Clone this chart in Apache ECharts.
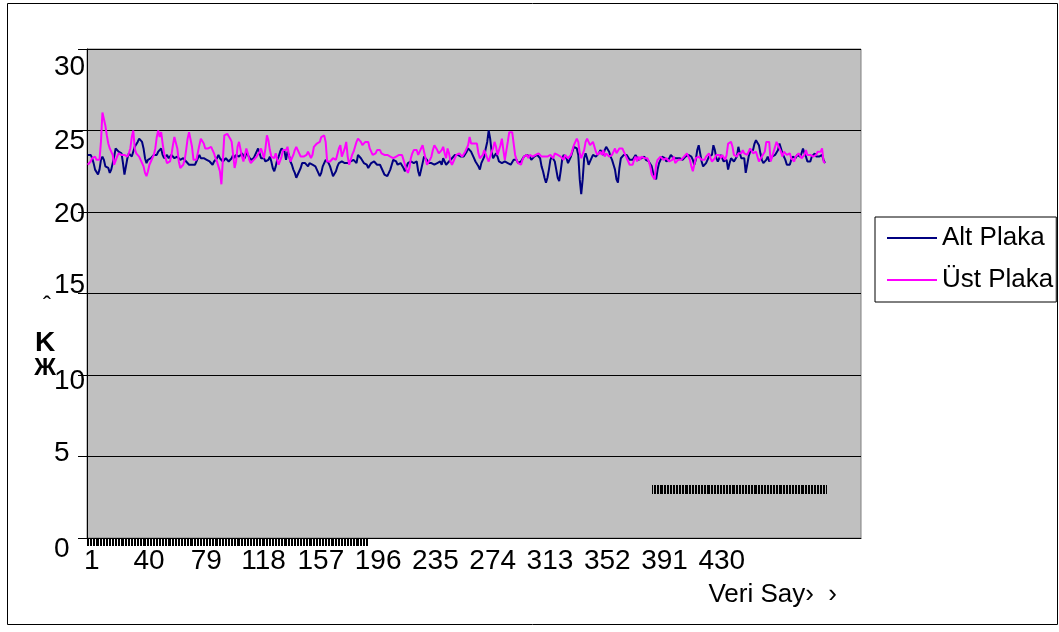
<!DOCTYPE html>
<html><head><meta charset="utf-8">
<script src="https://cdn.jsdelivr.net/npm/echarts@6/dist/echarts.min.js"></script>
<style>html,body{margin:0;padding:0;background:#fff}#c{width:1059px;height:632px}</style>
</head><body><div id="c"></div>
<script>
const seriesNames = ['Alt Plaka', 'Üst Plaka'];
const altPlaka = [23.5,23.5,23.5,23.3,23.0,22.6,22.5,22.3,22.6,23.2,
23.4,23.2,22.8,22.7,22.7,22.4,22.6,23.0,23.4,23.9,
23.9,23.7,23.6,23.6,23.0,22.3,22.8,23.3,23.6,23.6,
23.4,23.5,24.0,24.1,24.3,24.5,24.5,24.3,23.9,23.3,
23.0,23.2,23.3,23.3,23.4,23.5,23.5,23.5,23.7,23.6,
23.9,23.5,23.3,23.4,23.5,23.3,23.3,23.5,23.4,23.3,
23.4,23.4,23.3,23.2,23.2,23.3,23.3,23.1,23.0,22.9,
22.9,22.9,22.9,22.9,23.1,23.3,23.5,23.3,23.3,23.3,
23.3,23.2,23.2,23.1,23.0,22.9,23.1,23.2,23.3,23.5,
23.3,23.2,23.1,23.2,23.3,23.2,23.1,23.2,23.3,23.5,
23.3,23.5,23.5,23.4,23.4,23.6,23.5,23.3,23.7,23.5,
23.4,23.2,23.2,23.3,23.5,23.7,23.9,23.6,23.3,23.4,
23.3,23.1,23.0,23.2,23.4,23.1,22.7,22.5,22.8,23.2,
23.4,23.7,23.9,23.9,23.7,23.2,23.7,23.5,23.1,22.9,
22.6,22.4,22.1,22.1,22.5,22.7,23.0,23.0,23.0,22.9,
22.8,23.0,23.1,22.9,23.0,22.8,22.7,22.4,22.2,22.4,
22.8,23.0,23.2,23.1,23.0,22.8,22.5,22.2,22.2,22.5,
22.8,23.0,23.1,23.1,23.0,23.0,23.0,23.0,23.0,23.1,
23.1,23.2,23.1,23.0,23.5,23.5,23.3,23.2,23.0,23.0,
22.9,22.7,22.6,23.0,23.1,23.1,23.0,22.9,22.9,22.9,
22.8,22.5,22.3,22.2,22.2,22.4,22.6,22.9,23.2,23.3,
23.1,22.9,23.0,23.0,22.9,22.7,22.5,22.6,23.0,23.1,
23.1,23.0,23.0,23.1,23.1,22.5,22.2,22.6,23.0,23.4,
23.4,23.2,23.0,22.9,23.0,22.9,22.9,23.0,23.0,23.1,
23.1,22.9,23.3,23.2,22.9,22.9,23.1,23.2,23.3,23.4,
23.5,23.4,23.5,23.5,23.4,23.4,23.4,23.5,23.7,23.9,
24.0,23.7,23.5,23.3,23.1,23.0,22.8,22.6,23.0,23.1,
23.4,23.9,24.3,25.0,24.5,23.7,23.3,23.4,23.6,23.4,
23.1,23.0,23.0,23.0,23.1,23.0,23.0,23.0,22.9,23.0,
23.2,23.3,23.2,23.0,23.0,23.1,23.2,23.4,23.5,23.5,
23.5,23.4,23.2,23.2,23.4,23.5,23.5,23.4,23.3,22.8,
22.5,22.1,21.8,22.1,22.6,23.2,23.4,23.4,23.1,22.6,
22.1,21.9,22.5,23.2,23.5,23.6,23.3,23.0,23.1,23.4,
23.5,24.0,24.1,23.9,23.5,22.0,21.1,22.0,23.3,23.6,
23.3,22.9,23.0,23.3,23.5,23.5,23.4,23.3,23.6,23.8,
23.7,23.5,23.8,24.0,23.9,23.7,23.4,23.2,22.9,22.6,
22.0,21.8,22.7,23.3,23.4,23.5,23.6,23.5,23.4,23.2,
23.2,23.2,23.3,23.5,23.4,23.2,23.2,23.3,23.4,23.4,
23.2,23.3,23.1,23.0,22.8,22.4,22.2,22.0,22.6,23.0,
23.2,23.4,23.4,23.3,23.1,23.1,23.3,23.5,23.5,23.3,
23.4,23.3,23.4,23.3,23.2,23.2,23.3,23.4,23.5,23.5,
23.5,23.4,23.2,22.9,23.2,23.8,24.1,23.6,23.1,22.8,
22.9,23.0,23.2,23.4,23.5,23.5,24.1,23.8,23.3,23.1,
23.2,23.5,23.4,23.1,23.0,23.2,22.6,23.0,23.3,23.4,
23.1,23.0,23.4,24.0,23.6,23.3,23.3,23.3,22.4,22.9,
23.4,23.7,23.7,23.8,24.2,24.4,24.3,24.1,23.6,23.2,
23.0,23.1,23.2,23.4,23.1,23.0,23.4,23.5,23.5,23.5,
23.8,24.2,24.1,23.6,23.4,23.2,22.9,22.8,22.9,23.2,
23.4,23.5,23.3,23.5,23.5,23.4,23.6,23.9,23.6,23.4,
23.1,23.0,23.1,23.4,23.5,23.6,23.4,23.3,23.4,23.5,
23.5,23.2,23.0];
const ustPlaka = [22.9,22.9,23.1,23.3,23.4,23.4,23.2,23.1,23.2,24.3,
26.1,26.1,25.3,24.7,24.2,23.9,23.7,23.5,22.9,23.0,
23.4,23.6,23.6,23.5,23.5,23.5,23.4,23.4,23.6,23.9,
24.6,25.0,23.9,23.6,23.5,23.4,23.2,23.0,22.8,22.4,
22.2,22.5,22.9,23.1,23.3,23.5,23.9,24.6,25.0,24.6,
24.9,24.2,23.6,23.3,23.0,22.9,23.1,23.5,24.1,24.6,
24.5,23.9,23.1,22.7,22.7,22.9,23.2,23.8,24.5,24.9,
24.8,24.0,23.2,23.2,23.2,23.2,24.1,24.5,24.6,24.2,
23.9,24.0,23.9,24.0,24.0,23.9,23.6,23.3,23.1,22.8,
22.5,21.7,23.2,24.7,24.8,24.8,24.7,24.5,24.3,23.5,
22.7,23.1,24.0,24.3,24.2,23.4,23.1,23.5,23.9,23.6,
23.2,23.0,23.0,23.2,23.3,23.4,23.4,23.7,23.9,23.6,
23.3,23.9,24.7,24.4,23.8,23.4,23.3,23.3,23.6,23.2,
22.9,23.0,23.4,23.8,23.9,23.8,24.0,23.5,23.1,23.2,
23.5,23.8,24.0,23.8,23.6,23.4,23.5,23.4,23.4,23.5,
23.7,23.5,23.3,23.5,24.0,24.1,24.2,24.2,24.3,24.6,
24.7,24.7,24.3,23.1,23.0,23.1,23.2,23.3,23.4,23.2,
23.1,23.9,24.1,23.4,23.4,23.9,24.3,23.4,22.9,22.9,
23.5,23.7,23.7,24.3,24.5,24.5,24.3,24.1,24.1,24.3,
24.4,24.3,23.9,23.8,23.5,23.5,23.6,23.8,23.9,23.8,
23.6,23.5,23.5,23.5,23.5,23.5,23.4,23.4,23.3,23.3,
23.4,23.5,23.5,23.5,23.5,23.2,22.9,22.6,22.4,22.7,
23.3,23.6,23.8,23.8,23.8,23.5,23.5,23.9,24.1,23.7,
23.3,22.9,23.0,23.2,23.4,23.8,24.1,24.0,23.8,23.6,
23.5,23.8,24.0,23.6,23.3,23.9,23.6,23.1,22.9,23.1,
23.3,23.5,23.5,23.6,23.5,23.4,23.5,23.7,23.9,24.1,
24.6,24.2,24.2,24.2,24.3,24.2,23.6,23.3,23.2,23.5,
23.8,23.7,23.3,23.1,23.1,23.7,23.9,24.3,24.0,23.5,
23.6,24.1,24.5,23.8,23.2,23.1,24.3,24.9,24.9,24.9,
24.9,23.5,23.2,23.0,22.9,22.9,23.2,23.4,23.5,23.5,
23.3,23.5,23.5,23.4,23.5,23.5,23.5,23.6,23.5,23.4,
23.5,23.4,23.4,23.4,23.4,23.5,23.4,23.3,23.6,23.6,
23.5,23.5,23.4,23.4,23.2,23.5,23.5,23.3,23.4,23.5,
23.8,24.1,24.2,24.5,24.3,23.6,23.3,23.3,23.8,24.3,
24.5,24.3,24.1,24.1,24.3,24.0,23.7,23.5,23.4,23.7,
23.5,23.8,23.4,23.6,23.6,23.4,23.4,23.5,23.7,23.9,
23.6,23.7,23.9,24.0,23.9,23.7,23.5,23.5,23.1,22.9,
22.9,22.9,23.2,23.4,23.1,23.4,23.2,23.4,23.4,23.3,
23.3,23.3,23.1,22.8,22.3,22.2,22.0,22.9,23.2,23.3,
23.4,23.3,23.2,23.3,23.3,23.2,23.1,23.2,23.2,23.4,
23.0,23.1,23.2,23.3,23.2,23.2,23.4,23.5,23.6,23.4,
23.2,22.8,22.5,22.9,23.3,23.4,23.4,23.3,23.2,23.1,
23.2,23.4,23.5,23.6,23.3,23.1,23.1,23.3,23.5,23.6,
23.5,23.3,23.5,23.5,23.2,23.5,24.2,24.3,24.3,24.0,
23.5,23.6,23.4,23.6,23.7,23.6,23.8,23.6,23.7,23.5,
23.5,23.9,23.9,23.6,23.5,23.7,23.6,23.1,23.0,23.4,
23.4,23.7,24.3,24.3,24.3,23.1,23.1,23.7,24.0,24.3,
24.2,23.9,23.7,23.4,23.7,23.6,23.5,23.6,23.6,23.3,
23.2,23.1,23.4,23.5,23.6,23.5,23.3,23.2,23.5,23.8,
23.5,23.5,23.5,23.4,23.4,23.4,23.5,23.7,23.6,23.7,
23.9,23.1,23.0];
const categoryCount = 527;
const categories = Array.from({length: categoryCount}, (_, i) => String(i + 1));
const tickLabels = ['1','40','79','118','157','196','235','274','313','352','391','430'];
const yAxisTicks = [0, 5, 10, 15, 20, 25, 30];
const xAxisTitle = 'Veri Say›  ›';
// ranges of category slots that carry the stray tick hatching seen in the source
const hatchBottom = [0, 191];
const hatchInner = [385, 503];

const FONT = "'Liberation Sans', Arial, sans-serif";
const GL = 87, GR = 198, GT = 49, GB = 94, W = 1059, H = 632;
const slot = (W - GL - GR) / categoryCount;
const yShift = {0: 11, 5: -3, 10: 6, 15: -8, 20: 2, 25: 11, 30: 18};
const rich = {};
yAxisTicks.forEach(v => {
  const s = yShift[v];
  rich['s' + v] = {fontSize: 28, fontFamily: FONT, color: '#000',
    padding: s >= 0 ? [2 * s, 0, 0, 0] : [0, 0, -2 * s, 0]};
});

function hatchAxis(idx, range, len) {
  return {type: 'category', gridIndex: idx, data: categories.slice(range[0], range[1]),
    boundaryGap: true, axisLine: {show: false},
    axisTick: {show: true, inside: true, length: len, interval: 0, lineStyle: {color: '#000', width: 1}},
    axisLabel: {show: false}, splitLine: {show: false}};
}
function hiddenY(idx) {
  return {type: 'value', gridIndex: idx, show: false, splitLine: {show: false}};
}

const chart = echarts.init(document.getElementById('c'), null, {renderer: 'canvas'});
chart.setOption({
  animation: false,
  backgroundColor: '#fff',
  grid: [
    {left: GL, right: GR, top: GT, bottom: GB, show: true,
      backgroundColor: '#C0C0C0', borderColor: '#808080', borderWidth: 1, outerBoundsMode: 'none'},
    {left: GL + hatchBottom[0] * slot, width: (hatchBottom[1] - hatchBottom[0]) * slot,
      top: H - GB + 1, height: 7, outerBoundsMode: 'none'},
    {left: GL + hatchInner[0] * slot, width: (hatchInner[1] - hatchInner[0]) * slot,
      top: 485, height: 9, outerBoundsMode: 'none'}
  ],
  legend: {orient: 'vertical', left: 875, top: 217, padding: [8, 3, 9, 12],
    itemGap: 16, itemWidth: 50, itemHeight: 2, icon: 'rect',
    borderColor: '#000', borderWidth: 1, backgroundColor: '#fff',
    textStyle: {fontSize: 26, fontFamily: FONT, color: '#000'},
    data: seriesNames},
  xAxis: [{
    type: 'category', gridIndex: 0, data: categories, boundaryGap: true,
    axisLine: {lineStyle: {color: '#000', width: 1}},
    axisTick: {show: false},
    axisLabel: {interval: (i, v) => tickLabels.indexOf(v) >= 0,
      fontSize: 28, fontFamily: FONT, color: '#000', margin: 9, padding: [0, 0, 0, 8]},
    splitLine: {show: false}
  }, hatchAxis(1, hatchBottom, 7), hatchAxis(2, hatchInner, 9)],
  yAxis: [{
    type: 'value', gridIndex: 0, min: 0, max: 30, interval: 5,
    axisLine: {show: true, lineStyle: {color: '#000', width: 1}},
    axisTick: {show: true, length: 9, lineStyle: {color: '#000'}},
    axisLabel: {margin: 33, align: 'left', fontSize: 28, fontFamily: FONT, color: '#000',
      formatter: v => '{s' + v + '|' + v + '}', rich: rich},
    splitLine: {show: true, lineStyle: {color: '#000', width: 1}}
  }, hiddenY(1), hiddenY(2)],
  series: [
    {name: seriesNames[0], type: 'line', data: altPlaka, xAxisIndex: 0, yAxisIndex: 0, symbol: 'none', showSymbol: false,
      lineStyle: {color: '#000080', width: 2}, itemStyle: {color: '#000080'}},
    {name: seriesNames[1], type: 'line', data: ustPlaka, xAxisIndex: 0, yAxisIndex: 0, symbol: 'none', showSymbol: false,
      lineStyle: {color: '#FF00FF', width: 2}, itemStyle: {color: '#FF00FF'}}
  ],
  graphic: [
    {type: 'rect', shape: {x: 7.5, y: 3.5, width: 1050, height: 621}, silent: true,
      style: {fill: 'none', stroke: '#000', lineWidth: 1}, z: -1},
    {type: 'text', x: 837, y: 595, silent: true,
      style: {text: xAxisTitle, font: '26px ' + FONT, fill: '#000', textAlign: 'right', textVerticalAlign: 'middle'}},
    {type: 'text', x: 47, y: 306, silent: true,
      style: {text: 'ˆ', font: '24px ' + FONT, fill: '#000', textAlign: 'center', textVerticalAlign: 'middle'}},
    {type: 'text', x: 45, y: 343, silent: true,
      style: {text: 'K', font: 'bold 28px ' + FONT, fill: '#000', textAlign: 'center', textVerticalAlign: 'middle'}},
    {type: 'text', x: 45, y: 368, silent: true,
      style: {text: 'Ж', font: 'bold 24px ' + FONT, fill: '#000', textAlign: 'center', textVerticalAlign: 'middle'}}
  ]
});
</script></body></html>
